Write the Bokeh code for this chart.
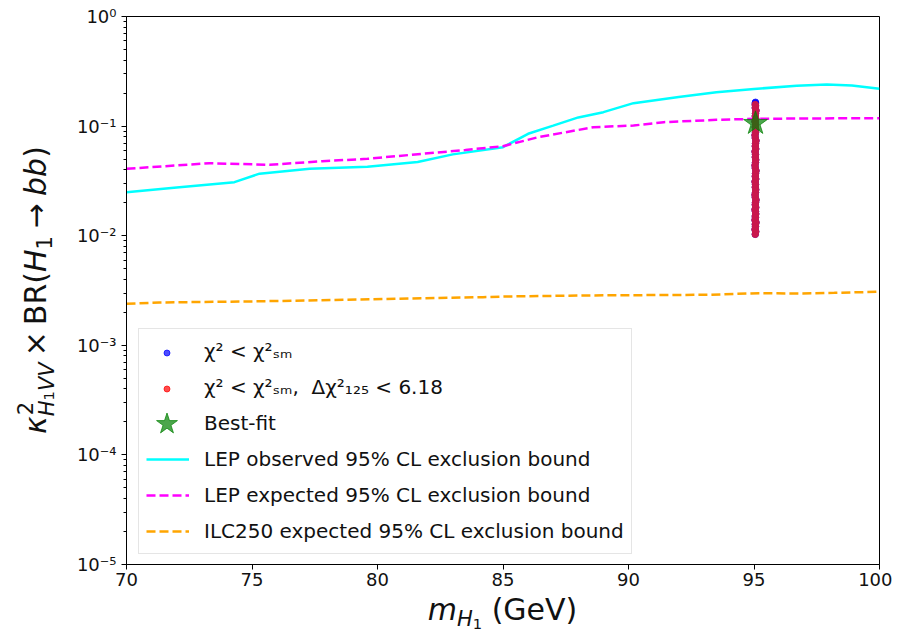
from bokeh.plotting import figure
from bokeh.models import (Range1d, Legend, LegendItem, FixedTicker, CustomJSTickFormatter, Div)
from bokeh.layouts import row, column
from bokeh.embed import file_html
from bokeh.resources import INLINE

# ---------------- data ----------------
lep_obs_mass = [70.0, 72.0, 74.3, 75.3, 77.3, 79.6, 81.6, 83.0, 85.0, 86.0, 87.0,
                88.0, 89.0, 90.2, 92.0, 93.5, 95.0, 96.7, 97.9, 98.9, 100.0]
lep_obs_val = [0.0249, 0.0275, 0.0308, 0.0368, 0.0408, 0.0425, 0.0470, 0.0552, 0.0642,
               0.0851, 0.101, 0.120, 0.134, 0.162, 0.184, 0.204, 0.218, 0.234, 0.240,
               0.235, 0.219]

lep_exp_mass = [70.0, 73.3, 75.7, 77.8, 79.6, 81.8, 83.5, 85.0, 86.4, 88.6, 90.2,
                91.4, 93.5, 95.0, 97.5, 100.0]
lep_exp_val = [0.0408, 0.0459, 0.0443, 0.0478, 0.0503, 0.0559, 0.0605, 0.0656, 0.0792,
               0.0977, 0.1012, 0.1086, 0.114, 0.1165, 0.1175, 0.118]

ilc_mass = [70.0, 71.3, 75.3, 79.3, 84.2, 85.2, 88.2, 93.2, 95.2, 96.8, 98.2, 100.0]
ilc_val = [0.00239, 0.00246, 0.00252, 0.00262, 0.00275, 0.00279, 0.00285, 0.00289,
           0.00299, 0.00297, 0.00301, 0.00308]

scan_red_val = [0.0103, 0.0109, 0.0114, 0.0121, 0.0127, 0.0132, 0.0139, 0.0146, 0.0151,
                0.0158, 0.0166, 0.0173, 0.0181, 0.0192, 0.0201, 0.0212, 0.0224, 0.0236,
                0.0248, 0.0263, 0.0277, 0.0294, 0.0311, 0.0329, 0.0348, 0.0369, 0.0391,
                0.0414, 0.0438, 0.0465, 0.0492, 0.0521, 0.0552, 0.0585, 0.0619, 0.0656,
                0.0695, 0.0736, 0.0779, 0.0826, 0.0874, 0.0926, 0.0981, 0.1039, 0.1101,
                0.1166, 0.1234, 0.1307, 0.1385, 0.1466, 0.1528, 0.1572]
scan_red_mass = [95.05, 95.07, 95.04, 95.06, 95.05, 95.08, 95.04, 95.06, 95.05, 95.07,
                 95.06, 95.04, 95.07, 95.05, 95.06, 95.08, 95.05, 95.04, 95.06, 95.07,
                 95.05, 95.06, 95.04, 95.07, 95.05, 95.06, 95.08, 95.05, 95.04, 95.06,
                 95.07, 95.05, 95.06, 95.04, 95.07, 95.05, 95.06, 95.08, 95.05, 95.04,
                 95.06, 95.07, 95.05, 95.06, 95.04, 95.07, 95.05, 95.06, 95.08, 95.05,
                 95.06, 95.05]
scan_blue_extra_val = [0.1598, 0.1625, 0.1651]
scan_blue_extra_mass = [95.06, 95.05, 95.06]
scan_blue_val = scan_red_val + scan_blue_extra_val
scan_blue_mass = scan_red_mass + scan_blue_extra_mass

bestfit_mass = [95.06]
bestfit_val = [0.106]

x_ticks = [70, 75, 80, 85, 90, 95, 100]
y_ticks = [1e-5, 1e-4, 1e-3, 1e-2, 1e-1, 1.0]

legend_labels = ["χ² < χ²ₛₘ",
                 "χ² < χ²ₛₘ,  Δχ²₁₂₅ < 6.18",
                 "Best-fit",
                 "LEP observed 95% CL exclusion bound",
                 "LEP expected 95% CL exclusion bound",
                 "ILC250 expected 95% CL exclusion bound"]

FONT = "DejaVu Sans"
NAN = float("nan")

# ---------------- layout sizes ----------------
YDIV_W = 66
TOTAL_W = 892
FIG_H = 598
XDIV_H = 42

# ---------------- figure ----------------
p = figure(width=TOTAL_W - YDIV_W, height=FIG_H, x_range=Range1d(70, 100),
           y_range=Range1d(1e-5, 1.0), y_axis_type="log", output_backend="svg",
           toolbar_location=None, min_border_left=126 - YDIV_W, min_border_right=13,
           min_border_top=16, min_border_bottom=34,
           background_fill_color="white", border_fill_color="white")
p.grid.visible = False
p.outline_line_color = "black"
p.outline_line_width = 1
p.outline_line_alpha = 1

for ax in (p.xaxis, p.yaxis):
    ax.axis_line_color = "black"
    ax.major_tick_line_color = "black"
    ax.major_tick_out = 5
    ax.major_tick_in = 0
    ax.major_label_standoff = 5
    ax.major_label_text_font = FONT
    ax.major_label_text_font_size = "18px"
    ax.major_label_text_color = "#111111"

p.xaxis.ticker = FixedTicker(ticks=x_ticks)
p.xaxis.minor_tick_line_color = None
p.xaxis.major_label_standoff = 3
minor = [m * 10.0 ** k for k in range(-5, 0) for m in range(2, 10)]
p.yaxis.ticker = FixedTicker(ticks=y_ticks, minor_ticks=minor)
p.yaxis.minor_tick_out = 3
p.yaxis.minor_tick_in = 0
p.yaxis.minor_tick_line_color = "black"
p.yaxis.formatter = CustomJSTickFormatter(code="""
const e = Math.round(Math.log10(tick));
const sup = {'-':'\u207b','0':'\u2070','1':'\u00b9','2':'\u00b2','3':'\u00b3','4':'\u2074',
             '5':'\u2075','6':'\u2076','7':'\u2077','8':'\u2078','9':'\u2079'};
return '10' + String(e).split('').map(c => sup[c]).join('');
""")

# ---------------- lines ----------------
r_obs = p.line(lep_obs_mass, lep_obs_val, line_color="#00ffff", line_width=2.5)
r_exp = p.line(lep_exp_mass, lep_exp_val, line_color="#ff00ff", line_width=2.5,
               line_dash="9 4")
r_ilc = p.line(ilc_mass, ilc_val, line_color="#ffa500", line_width=2.5, line_dash="9 4")

# ---------------- scan points ----------------
r_blue = p.scatter(scan_blue_mass, scan_blue_val, size=6.5, color="blue", alpha=0.7)
r_red = p.scatter(scan_red_mass, scan_red_val, size=6.5, color="#c9174d", alpha=1.0)
r_best = p.scatter(bestfit_mass, bestfit_val, marker="star", size=25, color="green",
                   alpha=0.7)
# legend-only proxies (no visible marks)
r_red_key = p.scatter([NAN], [NAN], size=6.5, color="red", alpha=0.7)
r_blank = p.scatter([NAN], [NAN], size=1, color="white", alpha=0.0)

def style_legend(lg, font_size):
    lg.label_text_font = FONT
    lg.label_text_font_size = font_size
    lg.label_text_color = "#111111"
    lg.margin = 0

legend = Legend(items=[
    LegendItem(label=legend_labels[0], renderers=[r_blank]),
    LegendItem(label=legend_labels[1], renderers=[r_blank]),
    LegendItem(label=legend_labels[2], renderers=[r_blank]),
    LegendItem(label=legend_labels[3], renderers=[r_obs]),
    LegendItem(label=legend_labels[4], renderers=[r_exp]),
    LegendItem(label=legend_labels[5], renderers=[r_ilc]),
], location=(12, 10))
style_legend(legend, "20px")
legend.label_height = 30
legend.glyph_height = 30
legend.glyph_width = 43
legend.label_standoff = 15
legend.spacing = 6
legend.padding = 7
legend.border_line_color = "#cccccc"
legend.border_line_width = 1
legend.background_fill_color = "white"
legend.background_fill_alpha = 0.8
p.add_layout(legend)

# small markers for the two point keys
dots = Legend(items=[LegendItem(label=" ", renderers=[r_blue]),
                     LegendItem(label=" ", renderers=[r_red_key])],
              location=(33, 168))
style_legend(dots, "1px")
dots.glyph_width = 15
dots.glyph_height = 15
dots.label_height = 15
dots.label_standoff = 0
dots.spacing = 21
dots.padding = 0
dots.border_line_color = None
dots.background_fill_alpha = 0
p.add_layout(dots)

# larger star key
stars = Legend(items=[LegendItem(label=" ", renderers=[r_best])], location=(13, 113))
style_legend(stars, "1px")
stars.glyph_width = 55
stars.glyph_height = 55
stars.label_height = 55
stars.label_standoff = 0
stars.padding = 0
stars.border_line_color = None
stars.background_fill_alpha = 0
p.add_layout(stars)

# ---------------- axis labels as HTML text ----------------
base = "font-family:'DejaVu Sans';font-size:30px;line-height:1;color:#111111;white-space:nowrap;"
ylabel_html = (
    '<i>κ</i>'
    '<span style="display:inline-block;position:relative;font-size:0.7em;">'
    '<span style="position:absolute;left:0.05em;top:-0.62em;">2</span>'
    '<span style="position:relative;top:0.38em;"><i>H</i>'
    '<span style="font-size:0.7em;">1</span><i>VV</i></span></span>'
    '<span style="margin:0 0.2em;">×</span>BR(<i>H</i>'
    '<span style="font-size:0.7em;position:relative;top:0.3em;">1</span>'
    '<span style="margin:0 0.25em;">→</span><i>bb</i>)'
)
xlabel_html = (
    '<i>m</i><span style="font-size:0.7em;position:relative;top:0.3em;"><i>H</i>'
    '<span style="font-size:0.7em;position:relative;top:0.2em;">1</span></span> (GeV)'
)

ydiv = Div(width=YDIV_W, height=FIG_H + XDIV_H, margin=0, text=(
    f'<div style="position:relative;width:{YDIV_W}px;height:{FIG_H + XDIV_H}px;">'
    f'<div style="position:absolute;left:35.6px;top:290px;'
    f'transform:translate(-50%,-50%) rotate(-90deg);{base}">{ylabel_html}</div></div>'))

xcenter = (126 + 879) / 2 - YDIV_W
xdiv = Div(width=TOTAL_W - YDIV_W, height=XDIV_H, margin=0, text=(
    f'<div style="position:relative;width:{TOTAL_W - YDIV_W}px;height:{XDIV_H}px;">'
    f'<div style="position:absolute;left:{xcenter}px;top:11.6px;'
    f'transform:translate(-50%,-50%);{base}">{xlabel_html}</div></div>'))

layout = row(ydiv, column(p, xdiv, spacing=0), spacing=0)

open("out.html", "w").write(file_html(layout, INLINE))
